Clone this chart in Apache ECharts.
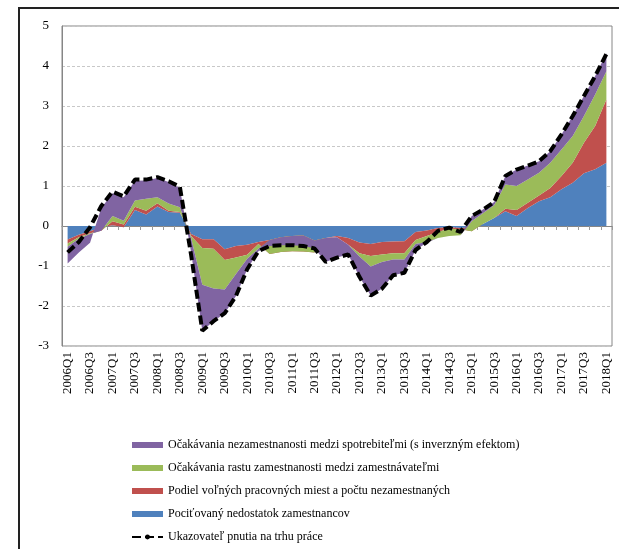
<!DOCTYPE html>
<html>
<head>
<meta charset="utf-8">
<script src="https://cdn.jsdelivr.net/npm/echarts@6/dist/echarts.min.js"></script>
<style>
  html, body { margin: 0; padding: 0; background: #fff; }
  #chart { width: 619px; height: 549px; }
</style>
</head>
<body>
<div id="chart"></div>
<script>
// quarters 2006Q1 .. 2018Q1
var quarters = []
for (var y = 2006; y <= 2018; y++) {
  for (var q = 1; q <= 4; q++) {
    if (y === 2018 && q > 1) break
    quarters.push(y + 'Q' + q)
  }
}

var names = [
  'Očakávania nezamestnanosti medzi spotrebiteľmi (s inverzným efektom)',
  'Očakávania rastu zamestnanosti medzi zamestnávateľmi',
  'Podiel voľných pracovných miest a počtu nezamestnaných',
  'Pociťovaný nedostatok zamestnancov',
  'Ukazovateľ pnutia na trhu práce'
]

// contributions (stacked cumulatively, as in the original)
var nedostatok = [-0.34, -0.22, -0.13, -0.04, 0.02, -0.03, 0.40, 0.29, 0.49, 0.35, 0.33, -0.20,
  -0.33, -0.33, -0.58, -0.50, -0.47, -0.40, -0.35, -0.28, -0.25, -0.24, -0.36, -0.30,
  -0.25, -0.30, -0.41, -0.45, -0.40, -0.39, -0.38, -0.15, -0.11, -0.05, -0.03, -0.05,
  -0.04, 0.05, 0.20, 0.37, 0.25, 0.45, 0.62, 0.72, 0.92, 1.08, 1.32, 1.42, 1.58]
var podiel = [-0.10, -0.06, -0.05, -0.08, 0.10, 0.07, 0.08, 0.09, 0.08, 0.03, 0.02, -0.05,
  -0.22, -0.24, -0.27, -0.29, -0.25, -0.05, -0.35, -0.37, -0.38, -0.40, -0.30, 0,
  -0.03, -0.17, -0.27, -0.30, -0.31, -0.29, -0.30, -0.20, -0.14, -0.10, -0.04, -0.03,
  -0.09, 0, 0, 0.06, 0.15, 0.13, 0.14, 0.23, 0.33, 0.50, 0.76, 1.08, 1.58]
var zamestnavatelia = [-0.08, -0.04, -0.02, 0, 0.13, 0.09, 0.16, 0.30, 0.15, 0.18, 0.12, -0.05,
  -0.92, -0.99, -0.74, -0.41, -0.10, -0.12, 0.35, 0.37, 0.38, 0.40, 0.30, 0,
  0, 0, -0.08, -0.26, -0.19, -0.16, -0.16, -0.10, -0.15, -0.15, -0.18, -0.15,
  0.25, 0.27, 0.32, 0.61, 0.60, 0.58, 0.57, 0.63, 0.66, 0.67, 0.67, 0.79, 0.71]
var spotrebitelia = [-0.42, -0.34, -0.22, 0.57, 0.57, 0.59, 0.49, 0.46, 0.48, 0.54, 0.48, -0.35,
  -1.15, -0.82, -0.59, -0.55, -0.26, -0.06, -0.15, -0.20, -0.23, -0.26, -0.20, -0.60,
  -0.51, -0.24, -0.51, -0.73, -0.67, -0.39, -0.33, -0.15, -0.02, 0, 0, 0,
  0.13, 0.09, 0.08, 0.21, 0.41, 0.35, 0.29, 0.29, 0.38, 0.50, 0.50, 0.46, 0.45]
var ukazovatel = [-0.66, -0.40, -0.03, 0.50, 0.86, 0.74, 1.16, 1.16, 1.22, 1.12, 0.98, -0.72,
  -2.62, -2.38, -2.18, -1.75, -1.08, -0.63, -0.50, -0.48, -0.48, -0.50, -0.56, -0.90,
  -0.79, -0.71, -1.27, -1.74, -1.57, -1.23, -1.17, -0.60, -0.40, -0.12, -0.04, -0.15,
  0.25, 0.41, 0.60, 1.25, 1.41, 1.51, 1.62, 1.87, 2.29, 2.75, 3.25, 3.75, 4.30]

var serif = 'Liberation Serif, Times New Roman, serif'

function area (name, data, color) {
  return {
    name: name,
    type: 'line',
    stack: 'total',
    stackStrategy: 'all',
    data: data,
    symbol: 'none',
    lineStyle: { width: 0 },
    itemStyle: { color: color },
    areaStyle: { color: color, opacity: 1 }
  }
}

var myChart = echarts.init(document.getElementById('chart'))
var option = {
  animation: false,
  backgroundColor: '#fff',
  graphic: [{
    type: 'rect',
    shape: { x: 19, y: 8, width: 700, height: 700 },
    style: { fill: 'none', stroke: '#222', lineWidth: 2 },
    silent: true
  }],
  grid: {
    left: 62,
    right: 7,
    top: 26,
    bottom: 203,
    show: true,
    borderColor: '#868686',
    borderWidth: 1
  },
  legend: {
    orient: 'vertical',
    left: 126,
    top: 433,
    itemWidth: 31,
    itemHeight: 6,
    itemGap: 9,
    textStyle: { fontFamily: serif, fontSize: 12, color: '#000', lineHeight: 14 },
    data: [
      { name: names[0], icon: 'rect' },
      { name: names[1], icon: 'rect' },
      { name: names[2], icon: 'rect' },
      { name: names[3], icon: 'rect' },
      { name: names[4] }
    ]
  },
  xAxis: [{
    type: 'category',
    data: quarters,
    position: 'bottom',
    axisLine: { show: false, onZero: false },
    axisTick: { show: false },
    axisLabel: {
      interval: 1,
      rotate: 90,
      margin: 6,
      fontFamily: serif,
      fontSize: 13,
      color: '#000'
    }
  }, {
    // zero line with the tick marks
    type: 'category',
    data: quarters,
    position: 'top',
    axisLine: { show: true, onZero: true, lineStyle: { color: '#868686', width: 1 } },
    axisTick: { show: true, inside: true, interval: 0, length: 4, lineStyle: { color: '#9a9a9a' } },
    axisLabel: { show: false }
  }],
  yAxis: {
    type: 'value',
    min: -3,
    max: 5,
    interval: 1,
    axisLine: { show: true, lineStyle: { color: '#868686' } },
    axisTick: { show: false },
    axisLabel: { fontFamily: serif, fontSize: 13, color: '#000', margin: 13 },
    splitLine: { lineStyle: { color: '#c8c8c8', type: [3, 2], width: 1 } }
  },
  series: [
    area(names[3], nedostatok, '#4F81BD'),
    area(names[2], podiel, '#C0504D'),
    area(names[1], zamestnavatelia, '#9BBB59'),
    area(names[0], spotrebitelia, '#8064A2'),
    {
      name: names[4],
      type: 'line',
      data: ukazovatel,
      symbol: 'none',
      z: 5,
      itemStyle: { color: '#000' },
      lineStyle: { color: '#000', width: 4, type: [9, 4], cap: 'butt' }
    }
  ]
}

myChart.setOption(option, true)
</script>
</body>
</html>
